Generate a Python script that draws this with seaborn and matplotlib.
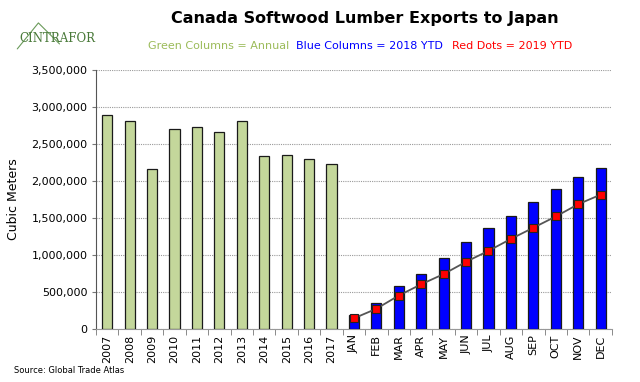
import pandas as pd
import matplotlib
matplotlib.use("Agg")
import matplotlib.pyplot as plt
from matplotlib.ticker import FuncFormatter, FixedLocator
import seaborn as sns

# data
years = ["2007", "2008", "2009", "2010", "2011", "2012", "2013", "2014", "2015", "2016", "2017"]
annual = [2885000, 2815000, 2165000, 2700000, 2735000, 2655000, 2810000, 2342000, 2346000, 2292000, 2230000]
months = ["JAN", "FEB", "MAR", "APR", "MAY", "JUN", "JUL", "AUG", "SEP", "OCT", "NOV", "DEC"]
ytd_2018 = [185000, 349000, 576000, 741000, 956000, 1175000, 1358000, 1519000, 1711000, 1886000, 2047000, 2176000]
ytd_2019 = [143000, 272000, 451000, 603000, 741000, 907000, 1055000, 1216000, 1367000, 1519000, 1685000, 1814000]

categories = years + months
df = pd.DataFrame({
    "period": categories,
    "volume": annual + ytd_2018,
    "group": ["Annual"] * len(years) + ["2018 YTD"] * len(months),
})
dots = pd.DataFrame({"period": months, "volume": ytd_2019})

sns.set_style("white")
plt.rcParams["font.family"] = ["DejaVu Sans"]
plt.rcParams["text.color"] = "black"
plt.rcParams["axes.labelcolor"] = "black"
plt.rcParams["xtick.labelcolor"] = "black"
plt.rcParams["ytick.labelcolor"] = "black"

fig = plt.figure(figsize=(6.4, 3.82), dpi=100)
ax = fig.add_axes([0.150, 0.139, 0.806, 0.678])

sns.barplot(data=df, x="period", y="volume", hue="group", order=categories,
            palette={"Annual": "#c4d79b", "2018 YTD": "#0000ff"}, saturation=1,
            dodge=False, width=0.45, edgecolor="#1a1a1a", linewidth=0.9,
            legend=False, ax=ax, zorder=3)

sns.pointplot(data=dots, x="period", y="volume", order=categories,
              color="#555555", markers="s", linestyles="-", ax=ax,
              markersize=5.5, linewidth=1.3, zorder=4)
# red squares with a dark rim, as in the original
for ln in ax.lines:
    ln.set_markerfacecolor("#ff0000")
    ln.set_markeredgecolor("#222222")
    ln.set_markeredgewidth(0.8)

ax.set_ylim(0, 3500000)
ax.set_xlim(-0.5, len(categories) - 0.5)
ax.set_yticks(range(0, 3500001, 500000))
ax.yaxis.set_major_formatter(FuncFormatter(lambda v, p: f"{int(v):,}"))
ax.yaxis.grid(True, linestyle=(0, (1, 1)), color="#9a9a9a", linewidth=0.8, zorder=0)
ax.xaxis.grid(False)
ax.set_axisbelow(True)

ax.set_xlabel("")
ax.set_ylabel("Cubic Meters", fontsize=9, labelpad=8)
ax.tick_params(axis="y", labelsize=8, length=3, color="#777777", pad=3, left=True)
ax.tick_params(axis="x", labelsize=8, rotation=90, length=0, pad=4)
ax.xaxis.set_minor_locator(FixedLocator([i - 0.5 for i in range(len(categories) + 1)]))
ax.tick_params(axis="x", which="minor", length=4, color="#777777", bottom=True)

for side in ["top", "right"]:
    ax.spines[side].set_visible(False)
ax.spines["left"].set_color("#555555")
ax.spines["bottom"].set_color("#999999")

fig.text(0.57, 0.952, "Canada Softwood Lumber Exports to Japan", ha="center", va="center",
         fontsize=11.5, fontweight="bold", color="black")
fig.text(0.231, 0.88, "Green Columns = Annual", color="#9bbb59", fontsize=8, ha="left", va="center")
fig.text(0.463, 0.88, "Blue Columns = 2018 YTD", color="#0000ff", fontsize=8, ha="left", va="center")
fig.text(0.707, 0.88, "Red Dots = 2019 YTD", color="#ff0000", fontsize=8, ha="left", va="center")

# logo
fig.text(0.030, 0.900, "CINTRAFOR", color="#4a7a3a", fontsize=8.5, family="DejaVu Serif",
         ha="left", va="center")
fig.lines.append(plt.Line2D([0.027, 0.060, 0.093], [0.872, 0.940, 0.885], transform=fig.transFigure,
                            color="#6a9a5a", linewidth=0.8))

fig.text(0.022, 0.018, "Source: Global Trade Atlas", fontsize=6, ha="left", va="bottom")

fig.savefig("out.png", dpi=100, facecolor="white")
